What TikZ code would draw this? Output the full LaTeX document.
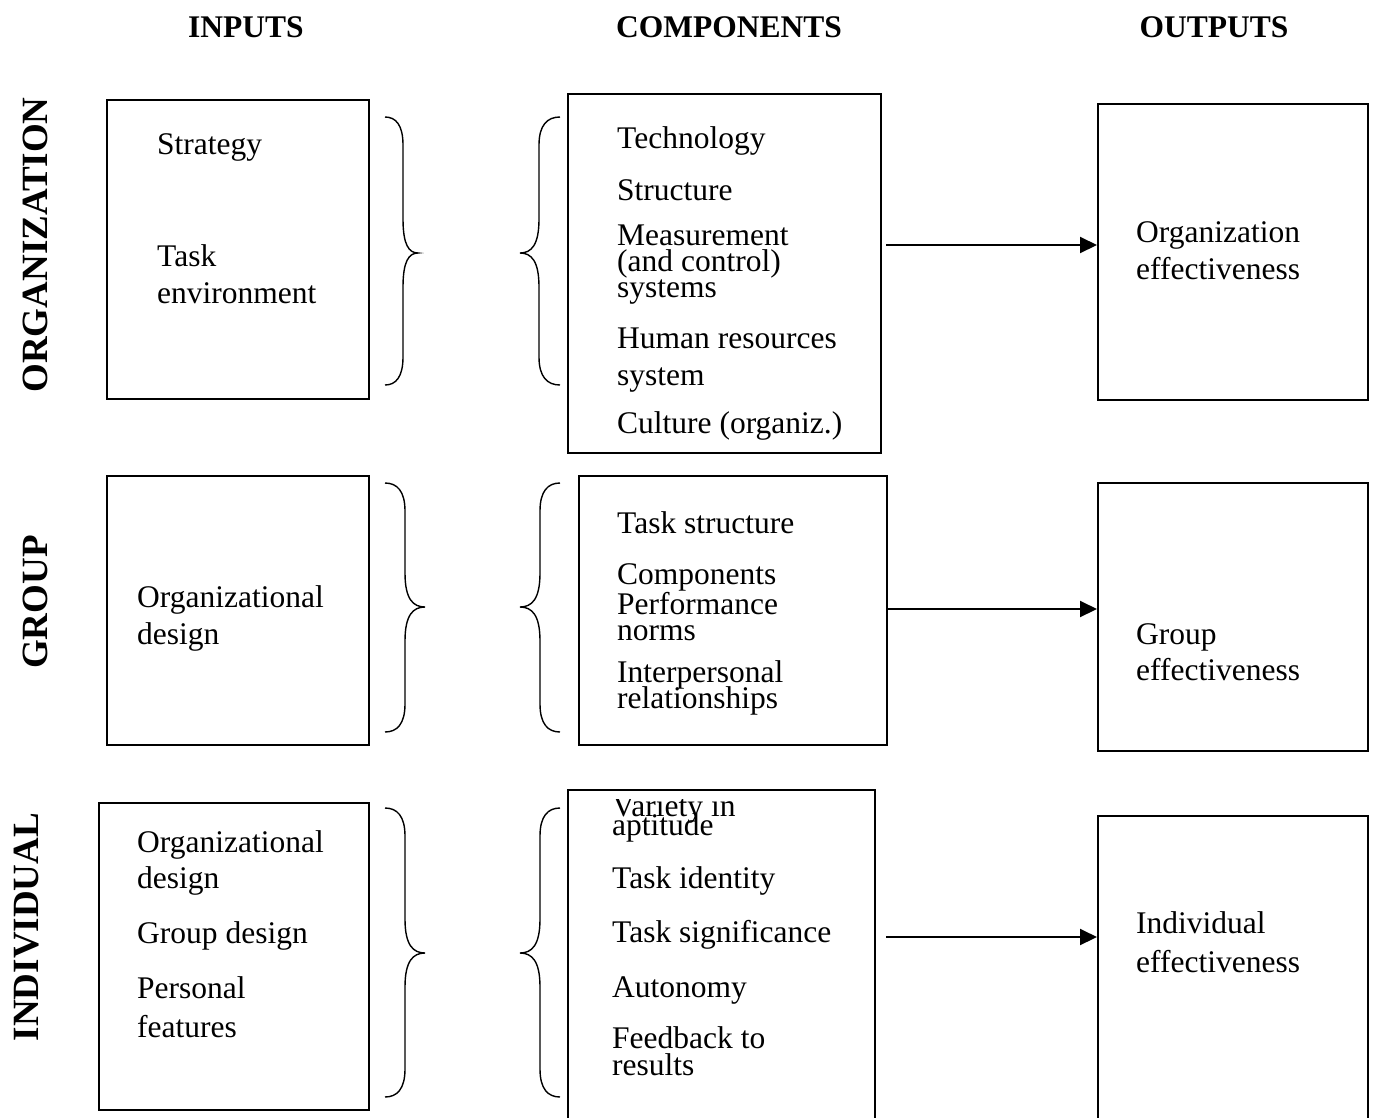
\documentclass[tikz,border=0pt]{standalone}
\usepackage{fontspec}
\setmainfont{Liberation Serif}
\usetikzlibrary{arrows.meta}

% Curly brace: #1 open-end x, #2 stem x, #3 tip x, #4 top y, #5 tip y, #6 bottom y
\newcommand\CurlyBrace[6]{%
  \draw[bracestyle] (#1,#4)
    .. controls ({#1+0.6*(#2-#1)},#4) and (#2,{#4+8}) .. (#2,{#4+28})
    -- (#2,{#5-34})
    .. controls (#2,{#5-8}) and ({#2+0.4*(#3-#2)},#5) .. (#3,#5)
    .. controls ({#2+0.4*(#3-#2)},#5) and (#2,{#5+8}) .. (#2,{#5+34})
    -- (#2,{#6-28})
    .. controls (#2,{#6-8}) and ({#1+0.6*(#2-#1)},#6) .. (#1,#6);}

\tikzset{
  box/.style={draw, line width=1.5pt, inner sep=0pt, anchor=north west},
  txt/.style={anchor=base west, inner sep=0pt, font=\fontsize{31.5}{36}\selectfont},
  head/.style={anchor=base, inner sep=0pt, font=\fontsize{31.5}{36}\selectfont\bfseries},
  side/.style={anchor=base, inner sep=0pt, rotate=90, font=\fontsize{37}{42}\selectfont\bfseries},
  bracestyle/.style={line width=1.4pt},
  arr/.style={line width=2pt, -{Triangle[length=17pt,width=16pt]}}
}

\begin{document}
\begin{tikzpicture}[x=1pt, y=-1pt]
\clip (0,0) rectangle (1373,1117);

% column headings
\node[head] (hin) at (246,37) {INPUTS};
\node[head] (hco) at (729,37) {COMPONENTS};
\node[head] (hout) at (1214,37) {OUTPUTS};

% level labels
\node[side] (lorg) at (47,245) {ORGANIZATION};
\node[side] (lgrp) at (47,602) {GROUP};
\node[side] (lind) at (38,927) {INDIVIDUAL};

% ---------------- organization level ----------------
\node[box, minimum width=262pt, minimum height=299pt] (oi) at (106,99) {};
\node[box, minimum width=313pt, minimum height=359pt] (oc) at (567,93) {};
\node[box, minimum width=270pt, minimum height=296pt] (oo) at (1097,103) {};

\node[txt] (oi1) at (157,154) {Strategy};
\node[txt] (oi2) at (157,266) {Task};
\node[txt] (oi3) at (157,303) {environment};

\node[txt] (oc1) at (617,148) {Technology};
\node[txt] (oc2) at (617,200) {Structure};
\node[txt] (oc3) at (617,245) {Measurement};
\node[txt] (oc4) at (617,271) {(and control)};
\node[txt] (oc5) at (617,297) {systems};
\node[txt] (oc6) at (617,348) {Human resources};
\node[txt] (oc7) at (617,385) {system};
\node[txt] (oc8) at (617,433) {Culture (organiz.)};

\node[txt] (oo1) at (1136,242) {Organization};
\node[txt] (oo2) at (1136,279) {effectiveness};

\CurlyBrace{385}{403}{418}{117}{253}{385}
\CurlyBrace{560}{539}{520}{117}{253}{385}

\coordinate (oa) at (886,245);
\draw[arr] (oa) -- (oa -| oo.west);

% ---------------- group level ----------------
\node[box, minimum width=262pt, minimum height=269pt] (gi) at (106,475) {};
\node[box, minimum width=308pt, minimum height=269pt] (gc) at (578,475) {};
\node[box, minimum width=270pt, minimum height=268pt] (go) at (1097,482) {};

\node[txt] (gi1) at (137,607) {Organizational};
\node[txt] (gi2) at (137,644) {design};

\node[txt] (gc1) at (617,533) {Task structure};
\node[txt] (gc2) at (617,584) {Components};
\node[txt] (gc3) at (617,614) {Performance};
\node[txt] (gc4) at (617,640) {norms};
\node[txt] (gc5) at (617,682) {Interpersonal};
\node[txt] (gc6) at (617,708) {relationships};

\node[txt] (go1) at (1136,644) {Group};
\node[txt] (go2) at (1136,680) {effectiveness};

\CurlyBrace{385}{405}{425}{483}{607}{732}
\CurlyBrace{560}{540}{520}{483}{607}{732}

\coordinate (ga) at (886,609);
\draw[arr] (ga) -- (ga -| go.west);

% ---------------- individual level ----------------
\node[box, minimum width=270pt, minimum height=307pt] (ii) at (98,802) {};
\node[box, minimum width=307pt, minimum height=360pt] (ic) at (567,789) {};
\node[box, minimum width=270pt, minimum height=340pt] (io) at (1097,815) {};

\node[txt] (ii1) at (137,852) {Organizational};
\node[txt] (ii2) at (137,888) {design};
\node[txt] (ii3) at (137,943) {Group design};
\node[txt] (ii4) at (137,998) {Personal};
\node[txt] (ii5) at (137,1037) {features};

\begin{scope}
  \clip (570,799) rectangle (870,840);
  \node[txt] (ic1) at (612,816) {Variety in};
\end{scope}
\node[txt] (ic2) at (612,835) {aptitude};
\node[txt] (ic3) at (612,888) {Task identity};
\node[txt] (ic4) at (612,942) {Task significance};
\node[txt] (ic5) at (612,997) {Autonomy};
\node[txt] (ic6) at (612,1048) {Feedback to};
\node[txt] (ic7) at (612,1075) {results};

\node[txt] (io1) at (1136,933) {Individual};
\node[txt] (io2) at (1136,972) {effectiveness};

\CurlyBrace{385}{405}{425}{808}{953}{1097}
\CurlyBrace{560}{540}{520}{808}{953}{1097}

\coordinate (ia) at (886,937);
\draw[arr] (ia) -- (ia -| io.west);
\end{tikzpicture}
\end{document}
